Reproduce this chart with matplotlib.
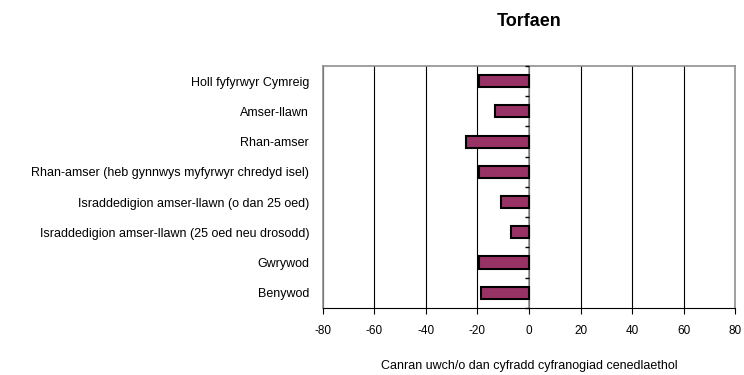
import numpy as np
import matplotlib.pyplot as plt

plt.rcParams['font.family'] = ['Liberation Sans', 'DejaVu Sans']

categories = [
    "Holl fyfyrwyr Cymreig",
    "Amser-llawn",
    "Rhan-amser",
    "Rhan-amser (heb gynnwys myfyrwyr chredyd isel)",
    "Israddedigion amser-llawn (o dan 25 oed)",
    "Israddedigion amser-llawn (25 oed neu drosodd)",
    "Gwrywod",
    "Benywod",
]
values = [-19.5, -13, -24.5, -19.5, -11, -7, -19.5, -18.5]
xticks = [-80, -60, -40, -20, 0, 20, 40, 60, 80]

fig = plt.figure(figsize=(7.44, 3.75), dpi=100)
ax = fig.add_axes([0.434, 0.179, 0.554, 0.645])

y = np.arange(len(categories))
ax.barh(y, values, height=0.4, color="#993366", edgecolor="black", linewidth=1.5, zorder=3)

ax.set_xlim(-80, 80)
ax.set_ylim(len(categories) - 0.5, -0.5)
ax.set_xticks(xticks)
ax.set_xticklabels([str(t) for t in xticks], fontsize=8.5)
ax.xaxis.grid(True, color="black", linewidth=0.8)
# grey category axis sitting at zero
ax.axvline(0, color="#909090", linewidth=1.2, zorder=2.5)

ax.set_yticks(y)
ax.set_yticklabels(categories, fontsize=9)
ax.tick_params(axis="y", length=0, pad=10)
ax.tick_params(axis="x", length=4, direction="out", pad=8)

for side in ["top", "right", "left"]:
    ax.spines[side].set_color("#909090")
    ax.spines[side].set_linewidth(1.2)
ax.spines["bottom"].set_color("black")

# category dividers: small left-pointing ticks on the zero line
edges = np.arange(len(categories) + 1) - 0.5
ax.plot(np.zeros_like(edges), edges, linestyle="none", marker=0,
        markersize=3, markeredgewidth=1, color="black", zorder=5, clip_on=False)

ax.set_xlabel("Canran uwch/o dan cyfradd cyfranogiad cenedlaethol", fontsize=9, labelpad=17)
ax.set_title("Torfaen", fontsize=13, fontweight="bold", pad=29)

fig.savefig("out.png", dpi=100)
